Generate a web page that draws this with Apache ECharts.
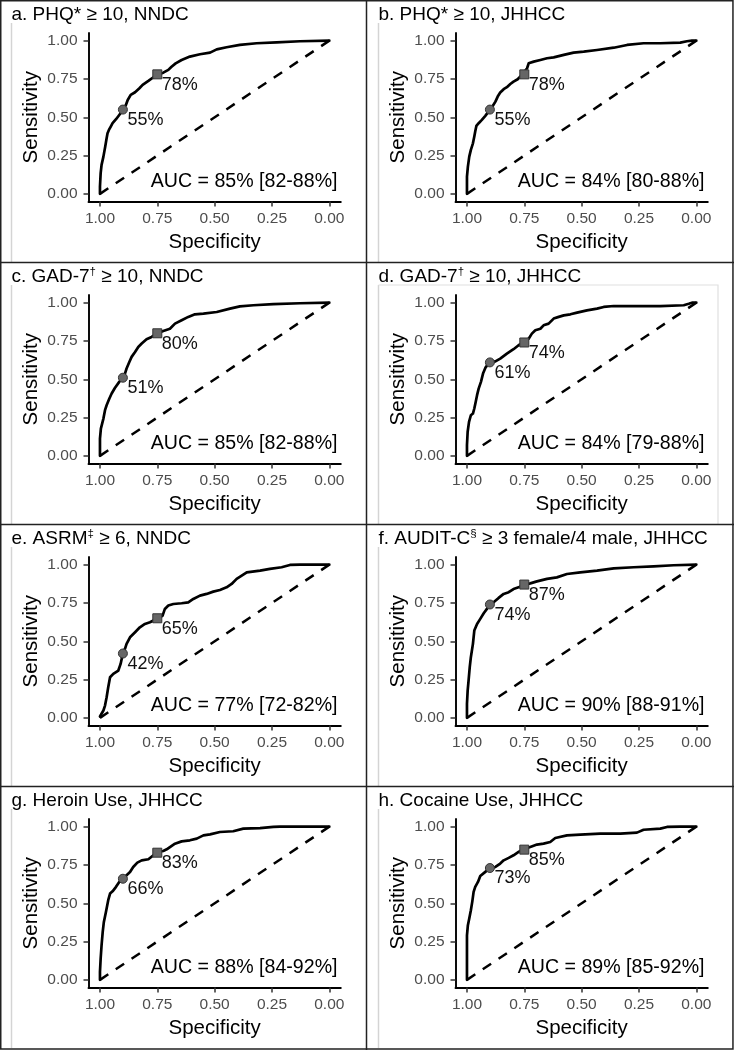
<!DOCTYPE html>
<html><head><meta charset="utf-8">
<script src="https://cdn.jsdelivr.net/npm/echarts@6/dist/echarts.min.js"></script>
<style>html,body{margin:0;padding:0;background:#fff}#c{width:734px;height:1050px}</style>
</head><body><div id="c"></div>
<script>
// ---- data ----
const titles = [
  "a. PHQ* ≥ 10, NNDC",
  "b. PHQ* ≥ 10, JHHCC",
  "c. GAD-7{sup|†} ≥ 10, NNDC",
  "d. GAD-7{sup|†} ≥ 10, JHHCC",
  "e. ASRM{sup|‡} ≥ 6, NNDC",
  "f. AUDIT-C{sup|§} ≥ 3 female/4 male, JHHCC",
  "g. Heroin Use, JHHCC",
  "h. Cocaine Use, JHHCC"
];
const aucLabels = [
  "AUC = 85% [82-88%]", "AUC = 84% [80-88%]",
  "AUC = 85% [82-88%]", "AUC = 84% [79-88%]",
  "AUC = 77% [72-82%]", "AUC = 90% [88-91%]",
  "AUC = 88% [84-92%]", "AUC = 89% [85-92%]"
];
const tickValues = [0, 0.25, 0.5, 0.75, 1];
// [specificity, sensitivity]
const rocA = [[1,0],[1,0.048],[0.997,0.135],[0.993,0.189],[0.985,0.243],[0.977,0.309],[0.971,0.363],[0.967,0.396],[0.961,0.417],[0.953,0.439],[0.945,0.461],[0.93,0.487],[0.916,0.515],[0.9,0.548],[0.887,0.58],[0.879,0.613],[0.866,0.646],[0.847,0.663],[0.828,0.689],[0.814,0.711],[0.789,0.737],[0.767,0.761],[0.75,0.778],[0.724,0.791],[0.702,0.809],[0.688,0.83],[0.67,0.852],[0.644,0.874],[0.608,0.896],[0.564,0.911],[0.52,0.922],[0.491,0.943],[0.448,0.957],[0.39,0.972],[0.317,0.983],[0.23,0.989],[0.128,0.996],[0,1]];
const rocB = [[1,0],[1,0.048],[1,0.113],[0.996,0.178],[0.99,0.243],[0.983,0.287],[0.974,0.33],[0.968,0.374],[0.964,0.407],[0.959,0.443],[0.949,0.461],[0.935,0.483],[0.92,0.509],[0.903,0.543],[0.891,0.565],[0.876,0.602],[0.866,0.635],[0.855,0.661],[0.84,0.683],[0.826,0.696],[0.811,0.717],[0.797,0.733],[0.779,0.748],[0.756,0.783],[0.738,0.82],[0.731,0.852],[0.709,0.863],[0.68,0.874],[0.651,0.885],[0.622,0.891],[0.578,0.907],[0.535,0.922],[0.491,0.928],[0.433,0.939],[0.36,0.954],[0.302,0.972],[0.23,0.983],[0.157,0.983],[0.07,0.987],[0.041,0.996],[0.019,1],[0,1]];
const rocC = [[1,0],[1,0.048],[1,0.113],[0.996,0.178],[0.985,0.243],[0.978,0.298],[0.971,0.33],[0.959,0.374],[0.949,0.407],[0.935,0.443],[0.916,0.483],[0.9,0.511],[0.891,0.537],[0.884,0.57],[0.872,0.613],[0.862,0.646],[0.847,0.678],[0.833,0.711],[0.818,0.733],[0.797,0.761],[0.775,0.776],[0.75,0.8],[0.724,0.815],[0.695,0.83],[0.673,0.863],[0.644,0.885],[0.615,0.907],[0.586,0.924],[0.549,0.928],[0.491,0.939],[0.433,0.961],[0.39,0.976],[0.331,0.983],[0.244,0.991],[0.128,0.996],[0,1]];
const rocD = [[1,0],[1,0.07],[0.997,0.157],[0.991,0.222],[0.983,0.265],[0.974,0.276],[0.968,0.309],[0.962,0.352],[0.956,0.396],[0.949,0.439],[0.939,0.483],[0.93,0.537],[0.92,0.574],[0.903,0.609],[0.876,0.617],[0.855,0.635],[0.826,0.667],[0.797,0.696],[0.775,0.722],[0.756,0.739],[0.731,0.765],[0.717,0.798],[0.702,0.82],[0.68,0.83],[0.666,0.852],[0.644,0.863],[0.622,0.896],[0.6,0.907],[0.578,0.917],[0.549,0.924],[0.52,0.935],[0.477,0.95],[0.433,0.961],[0.404,0.972],[0.36,0.978],[0.273,0.978],[0.157,0.978],[0.055,0.983],[0.033,0.993],[0.019,1],[0,1]];
const rocE = [[1,0.009],[0.993,0.022],[0.985,0.048],[0.978,0.08],[0.971,0.135],[0.964,0.2],[0.956,0.265],[0.942,0.287],[0.92,0.309],[0.91,0.352],[0.9,0.422],[0.891,0.45],[0.884,0.483],[0.869,0.526],[0.847,0.559],[0.826,0.591],[0.804,0.613],[0.782,0.624],[0.767,0.635],[0.75,0.65],[0.727,0.667],[0.717,0.711],[0.702,0.733],[0.68,0.743],[0.644,0.748],[0.615,0.754],[0.593,0.776],[0.564,0.798],[0.535,0.809],[0.506,0.824],[0.477,0.835],[0.448,0.852],[0.426,0.874],[0.404,0.907],[0.382,0.928],[0.36,0.95],[0.302,0.961],[0.259,0.972],[0.208,0.983],[0.172,0.998],[0.128,1],[0,1]];
const rocF = [[1,0],[1,0.048],[1,0.091],[0.997,0.178],[0.993,0.243],[0.988,0.33],[0.983,0.396],[0.974,0.483],[0.968,0.57],[0.956,0.613],[0.942,0.646],[0.927,0.683],[0.913,0.711],[0.903,0.737],[0.884,0.754],[0.862,0.783],[0.84,0.809],[0.818,0.82],[0.797,0.841],[0.775,0.852],[0.756,0.867],[0.724,0.878],[0.695,0.891],[0.651,0.907],[0.608,0.917],[0.564,0.939],[0.506,0.95],[0.433,0.961],[0.36,0.976],[0.273,0.983],[0.186,0.989],[0.099,0.996],[0,1]];
const rocG = [[1,0],[1,0.052],[0.997,0.139],[0.993,0.226],[0.988,0.313],[0.983,0.378],[0.974,0.443],[0.964,0.52],[0.956,0.563],[0.945,0.578],[0.93,0.607],[0.916,0.639],[0.9,0.661],[0.884,0.683],[0.869,0.704],[0.855,0.737],[0.837,0.765],[0.818,0.78],[0.789,0.787],[0.767,0.813],[0.75,0.835],[0.724,0.841],[0.709,0.852],[0.695,0.867],[0.673,0.889],[0.644,0.904],[0.608,0.911],[0.578,0.922],[0.549,0.943],[0.52,0.95],[0.477,0.965],[0.419,0.97],[0.375,0.987],[0.302,0.991],[0.244,0.998],[0.215,1],[0,1]];
const rocH = [[1,0],[1,0.052],[1,0.204],[1,0.291],[0.996,0.357],[0.99,0.4],[0.983,0.454],[0.977,0.509],[0.971,0.574],[0.964,0.607],[0.952,0.639],[0.942,0.678],[0.924,0.7],[0.903,0.726],[0.876,0.737],[0.855,0.759],[0.84,0.78],[0.818,0.796],[0.797,0.813],[0.775,0.835],[0.756,0.852],[0.724,0.867],[0.695,0.883],[0.666,0.889],[0.637,0.9],[0.615,0.926],[0.564,0.943],[0.506,0.948],[0.419,0.954],[0.331,0.954],[0.259,0.961],[0.23,0.98],[0.157,0.987],[0.128,0.998],[0.07,1],[0,1]];
const rocs = [rocA, rocB, rocC, rocD, rocE, rocF, rocG, rocH];
// cut-off points [specificity, sensitivity]
const circlePts = [[0.9,0.55],[0.9,0.55],[0.9,0.51],[0.9,0.61],[0.9,0.42],[0.9,0.74],[0.9,0.66],[0.9,0.73]];
const squarePts = [[0.75,0.78],[0.75,0.78],[0.75,0.80],[0.75,0.74],[0.75,0.65],[0.75,0.87],[0.75,0.83],[0.75,0.85]];
const chanceLine = [[1,0],[0,1]];

// ---- layout ----
const FONT = '"Liberation Sans", Arial, sans-serif';
const cellX = [0, 367];
const cellY = [0, 262, 524, 786];
const grids = [], xAxes = [], yAxes = [], series = [], graphics = [];

for (let i = 0; i < 8; i++) {
  const cx = cellX[i % 2], cy = cellY[Math.floor(i / 2)];
  grids.push({left: cx + 88.5, top: cy + 33, width: 252.3, height: 168.5});
  xAxes.push({
    gridIndex: i, type: 'value', min: -0.05, max: 1.05, inverse: true,
    name: 'Specificity', nameLocation: 'middle', nameGap: 30,
    nameTextStyle: {fontFamily: FONT, fontSize: 20.5, color: '#000'},
    axisLine: {show: true, onZero: false, lineStyle: {color: '#000', width: 1.9}},
    axisTick: {show: true, length: 5, customValues: tickValues, lineStyle: {color: '#333', width: 1.5}},
    axisLabel: {customValues: tickValues, margin: 9, fontFamily: FONT, fontSize: 15.5, color: '#4d4d4d',
      formatter: v => v.toFixed(2)},
    splitLine: {show: false}
  });
  yAxes.push({
    gridIndex: i, type: 'value', min: -0.05, max: 1.05,
    name: 'Sensitivity', nameLocation: 'middle', nameGap: 47, nameRotate: 90,
    nameTextStyle: {fontFamily: FONT, fontSize: 20.5, color: '#000'},
    axisLine: {show: true, onZero: false, lineStyle: {color: '#000', width: 1.9}},
    axisTick: {show: true, length: 5, customValues: tickValues, lineStyle: {color: '#333', width: 1.5}},
    axisLabel: {customValues: tickValues, margin: 11, fontFamily: FONT, fontSize: 15.5, color: '#4d4d4d',
      formatter: v => v.toFixed(2)},
    splitLine: {show: false}
  });
  series.push({
    type: 'line', xAxisIndex: i, yAxisIndex: i, data: chanceLine, showSymbol: false, silent: true,
    lineStyle: {color: '#000', width: 2.5, type: [10, 9]}, z: 2
  });
  series.push({
    type: 'line', xAxisIndex: i, yAxisIndex: i, data: rocs[i], showSymbol: false, silent: true,
    lineStyle: {color: '#000', width: 2.7, join: 'round', cap: 'round'}, z: 3
  });
  const lbl = {show: true, position: [9.5, 15.5], align: 'left', verticalAlign: 'middle',
    fontFamily: FONT, fontSize: 18, color: '#111',
    formatter: p => Math.round(p.value[1] * 100) + '%'};
  series.push({
    type: 'scatter', xAxisIndex: i, yAxisIndex: i, data: [circlePts[i]], symbol: 'circle', symbolSize: 9,
    itemStyle: {color: '#666', borderColor: '#333', borderWidth: 1, opacity: 1}, label: lbl, z: 4
  });
  series.push({
    type: 'scatter', xAxisIndex: i, yAxisIndex: i, data: [squarePts[i]], symbol: 'rect', symbolSize: 9,
    itemStyle: {color: '#666', borderColor: '#333', borderWidth: 1, opacity: 1}, label: lbl, z: 4
  });
  // panel title
  graphics.push({type: 'text', x: cx + 11.5, y: cy + 14.5, z: 10,
    style: {text: titles[i], fontFamily: FONT, fontSize: 19, fill: '#000',
      verticalAlign: 'middle', lineHeight: 22,
      rich: {sup: {fontFamily: FONT, fontSize: 11.5, fill: '#000', verticalAlign: 'top', lineHeight: 22}}}});
  // AUC text
  graphics.push({type: 'text', x: cx + 337.5, y: cy + 181.5, z: 10,
    style: {text: aucLabels[i], fontFamily: FONT, fontSize: 19.6, fill: '#000',
      align: 'right', verticalAlign: 'middle'}});
  // faint image-frame lines
  graphics.push({type: 'line', z: 1, shape: {x1: cx + 11.5, y1: cy + 23, x2: cx + 11.5, y2: cy + 262},
    style: {stroke: '#d4d4d4', lineWidth: 1.5}});
  if (i === 3) {
    graphics.push({type: 'polyline', z: 1, shape: {points: [[cx + 11.5, cy + 23], [cx + 351, cy + 23], [cx + 351, cy + 262]]},
      style: {stroke: '#e0e0e0', lineWidth: 1.2, fill: null}});
  }
}
// table borders
graphics.push({type: 'rect', z: 20, shape: {x: 0.75, y: 0.75, width: 732.2, height: 1048.2},
  style: {stroke: '#222', lineWidth: 1.5, fill: null}});
graphics.push({type: 'line', z: 20, shape: {x1: 366.5, y1: 0, x2: 366.5, y2: 1050}, style: {stroke: '#222', lineWidth: 1.5}});
[262.5, 524.5, 786.5].forEach(y => graphics.push({type: 'line', z: 20, shape: {x1: 0, y1: y, x2: 734, y2: y}, style: {stroke: '#222', lineWidth: 1.5}}));

const chart = echarts.init(document.getElementById('c'), null, {renderer: 'canvas'});
chart.setOption({
  backgroundColor: '#fff', animation: false,
  grid: grids, xAxis: xAxes, yAxis: yAxes, series: series, graphic: graphics
});
</script></body></html>
